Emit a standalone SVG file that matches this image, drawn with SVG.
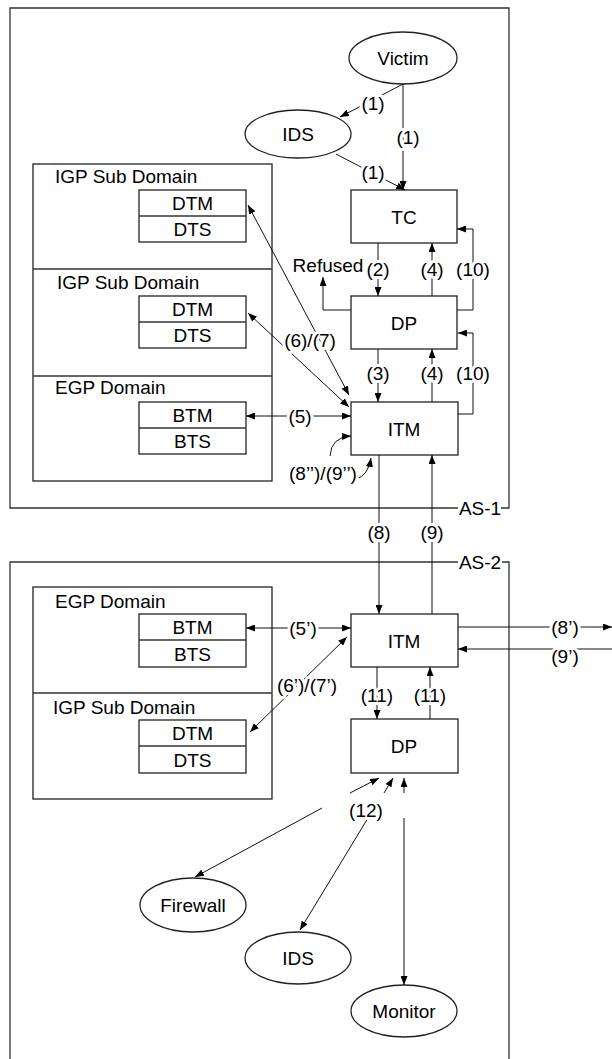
<svg xmlns="http://www.w3.org/2000/svg" width="612" height="1059" viewBox="0 0 612 1059">
<style>
text{font-family:"Liberation Sans",Arial,sans-serif;font-size:19px;fill:#000}
.c{text-anchor:middle}
.lbl{text-anchor:middle;paint-order:stroke;stroke:#fff;stroke-width:6px;stroke-linejoin:round}
.box{fill:#fff;stroke:#222;stroke-width:1.3}
.frame{fill:none;stroke:#333;stroke-width:1.3}
.ln{fill:none;stroke:#111;stroke-width:1}
.a{marker-end:url(#ah)}
.aa{marker-start:url(#ah);marker-end:url(#ah)}
</style>
<defs>
<marker id="ah" markerUnits="userSpaceOnUse" markerWidth="9" markerHeight="7" refX="9" refY="3.5" orient="auto-start-reverse">
<path d="M0,0 L9,3.5 L0,7 z" fill="#000"/>
</marker>
</defs>
<rect width="612" height="1059" fill="#fff"/>

<g id="as1">
<path class="frame" d="M458,508 H10 V8 H509 V508 H501"/>
<text class="c" x="480" y="515">AS-1</text>
</g>
<g id="as2">
<path class="frame" d="M458,562 H10 V1059 M509,1059 V562 H502"/>
<text class="c" x="480" y="569">AS-2</text>
</g>

<g id="as1-domains">
<rect class="box" x="33" y="164" width="239" height="317"/>
<line class="frame" x1="33" y1="269" x2="272" y2="269"/>
<line class="frame" x1="33" y1="376" x2="272" y2="376"/>
<text x="55" y="183">IGP Sub Domain</text>
<text x="57" y="289">IGP Sub Domain</text>
<text x="55" y="394">EGP Domain</text>
</g>
<g id="dtm1">
<rect class="box" x="139" y="190" width="107" height="52"/>
<line class="frame" x1="139" y1="216" x2="246" y2="216"/>
<text class="c" x="192.5" y="210">DTM</text>
<text class="c" x="192.5" y="236">DTS</text>
</g>
<g id="dtm2">
<rect class="box" x="139" y="296" width="107" height="52"/>
<line class="frame" x1="139" y1="322" x2="246" y2="322"/>
<text class="c" x="192.5" y="316">DTM</text>
<text class="c" x="192.5" y="342">DTS</text>
</g>
<g id="btm1">
<rect class="box" x="139" y="402" width="107" height="52"/>
<line class="frame" x1="139" y1="428" x2="246" y2="428"/>
<text class="c" x="192.5" y="421.5">BTM</text>
<text class="c" x="192.5" y="447.5">BTS</text>
</g>

<g id="as2-domains">
<rect class="box" x="33" y="587" width="239" height="212"/>
<line class="frame" x1="33" y1="693" x2="272" y2="693"/>
<text x="55" y="607.5">EGP Domain</text>
<text x="53" y="713.5">IGP Sub Domain</text>
</g>
<g id="btm2">
<rect class="box" x="139" y="614" width="107" height="53"/>
<line class="frame" x1="139" y1="640" x2="246" y2="640"/>
<text class="c" x="192.5" y="634">BTM</text>
<text class="c" x="192.5" y="660.5">BTS</text>
</g>
<g id="dtm3">
<rect class="box" x="139" y="720" width="107" height="53"/>
<line class="frame" x1="139" y1="746" x2="246" y2="746"/>
<text class="c" x="192.5" y="740">DTM</text>
<text class="c" x="192.5" y="766.5">DTS</text>
</g>

<g id="victim">
<ellipse class="box" cx="403" cy="58" rx="54" ry="26"/>
<text class="c" x="403" y="65">Victim</text>
</g>
<g id="ids1">
<ellipse class="box" cx="298" cy="134" rx="53" ry="24"/>
<text class="c" x="298" y="141">IDS</text>
</g>
<g id="tc">
<rect class="box" x="351" y="190" width="106" height="53"/>
<text class="c" x="404" y="223.5">TC</text>
</g>
<g id="dp1">
<rect class="box" x="351" y="296" width="106" height="53"/>
<text class="c" x="404" y="329.5">DP</text>
</g>
<g id="itm1">
<rect class="box" x="351" y="402" width="107" height="53"/>
<text class="c" x="404" y="435.5">ITM</text>
</g>
<g id="itm2">
<rect class="box" x="351" y="614" width="107" height="53"/>
<text class="c" x="404" y="647.5">ITM</text>
</g>
<g id="dp2">
<rect class="box" x="351" y="719" width="107" height="54"/>
<text class="c" x="404" y="753">DP</text>
</g>
<g id="firewall">
<ellipse class="box" cx="193" cy="905" rx="53" ry="27"/>
<text class="c" x="193" y="912">Firewall</text>
</g>
<g id="ids2">
<ellipse class="box" cx="298" cy="958" rx="53" ry="26"/>
<text class="c" x="298" y="965">IDS</text>
</g>
<g id="monitor">
<ellipse class="box" cx="404" cy="1011" rx="53" ry="26"/>
<text class="c" x="404" y="1018">Monitor</text>
</g>

<g id="connectors">
<path class="ln a" d="M403,84 L340,117"/>
<path class="ln a" d="M403,84 V190"/>
<path class="ln a" d="M336,154 L405,190"/>
<path class="ln a" d="M351,310 H323 V277"/>
<path class="ln a" d="M378,243 V296"/>
<path class="ln a" d="M432,296 V243"/>
<path class="ln a" d="M457,310 H473 V229 H457"/>
<path class="ln a" d="M378,349 V402"/>
<path class="ln a" d="M432,402 V349"/>
<path class="ln a" d="M458,414 H473 V333 H458"/>
<path class="ln aa" d="M246,416 H351"/>
<path class="ln aa" d="M248,205 L349,395"/>
<path class="ln aa" d="M248,313 L349,407"/>
<path class="ln a" d="M330,456 Q331,437 351,436"/>
<path class="ln a" d="M356,479 Q368,476 371,458"/>
<path class="ln a" d="M379,455 V614"/>
<path class="ln a" d="M432,614 V455"/>
<path class="ln aa" d="M246,628 H351"/>
<path class="ln aa" d="M250,732 L347,637"/>
<path class="ln a" d="M458,627 H612"/>
<path class="ln a" d="M612,649 H458"/>
<path class="ln a" d="M377,667 V719"/>
<path class="ln a" d="M430,719 V667"/>
<path class="ln a" d="M322,808 L195,877"/>
<path class="ln a" d="M350,793 L379,778"/>
<path class="ln a" d="M368,818 L300,930"/>
<path class="ln a" d="M384,793 L393,778"/>
<path class="ln a" d="M404,818 V985"/>
<path class="ln a" d="M404,793 V778"/>

<text class="lbl" x="373" y="110">(1)</text>
<text class="lbl" x="408" y="144">(1)</text>
<text class="lbl" x="373" y="179">(1)</text>
<text class="lbl" x="378" y="276">(2)</text>
<text class="lbl" x="432" y="276">(4)</text>
<text class="lbl" x="473" y="276">(10)</text>
<text class="lbl" x="328" y="272">Refused</text>
<text class="lbl" x="378" y="380">(3)</text>
<text class="lbl" x="432" y="380">(4)</text>
<text class="lbl" x="473" y="380">(10)</text>
<text class="lbl" x="300" y="423">(5)</text>
<text class="lbl" x="310" y="347">(6)/(7)</text>
<text class="lbl" x="323" y="480">(8’’)/(9’’)</text>
<text class="lbl" x="379" y="539">(8)</text>
<text class="lbl" x="432" y="539">(9)</text>
<text class="lbl" x="303" y="635">(5’)</text>
<text class="lbl" x="307" y="692">(6’)/(7’)</text>
<text class="lbl" x="565" y="634">(8’)</text>
<text class="lbl" x="565" y="663">(9’)</text>
<text class="lbl" x="377" y="702">(11)</text>
<text class="lbl" x="430" y="702">(11)</text>
<text class="lbl" x="366" y="817">(12)</text>
</g>
</svg>
